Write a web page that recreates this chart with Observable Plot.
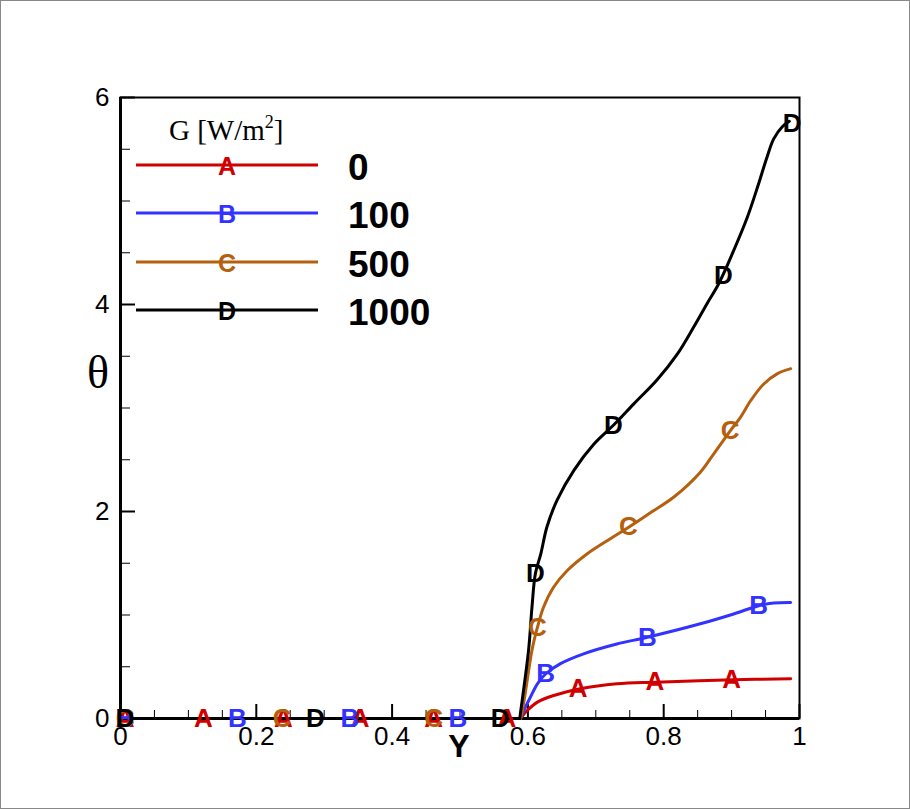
<!DOCTYPE html>
<html>
<head>
<meta charset="utf-8">
<script src="https://cdn.jsdelivr.net/npm/d3@7"></script>
<script src="https://cdn.jsdelivr.net/npm/@observablehq/plot@0.6"></script>
<style>
  html, body { margin: 0; padding: 0; background: #fff; }
  #chart { width: 910px; height: 809px; }
</style>
</head>
<body>
<div id="chart"></div>
<script>
// ---- Series meta ----
const seriesG = ["0", "100", "500", "1000"];
const seriesSymbol = ["A", "B", "C", "D"];
const seriesColor = ["#d00000", "#3333ff", "#b4600e", "#000000"];

// ---- Curves (Y, theta) ----
const curveA_Y = [0, 0.589, 0.599, 0.614, 0.638, 0.677, 0.731, 0.788, 0.903, 0.987];
const curveA_T = [0, 0, 0.077, 0.158, 0.222, 0.287, 0.335, 0.351, 0.374, 0.384];

const curveB_Y = [0, 0.589, 0.594, 0.604, 0.614, 0.626, 0.648, 0.682, 0.731, 0.776, 0.854, 0.903, 0.940, 0.962, 0.987];
const curveB_T = [0, 0, 0.077, 0.21, 0.335, 0.43, 0.53, 0.625, 0.72, 0.785, 0.915, 1.01, 1.09, 1.115, 1.12];

const curveC_Y = [0, 0.589, 0.591, 0.596, 0.606, 0.614, 0.623, 0.638, 0.658, 0.687, 0.722, 0.749, 0.781, 0.815, 0.854, 0.874, 0.898, 0.913, 0.928, 0.947, 0.967, 0.987];
const curveC_T = [0, 0, 0.05, 0.24, 0.66, 0.88, 1.075, 1.27, 1.43, 1.59, 1.74, 1.85, 1.99, 2.14, 2.38, 2.56, 2.78, 2.91, 3.07, 3.23, 3.33, 3.38];

const curveD_Y = [0, 0.588, 0.589, 0.601, 0.606, 0.611, 0.619, 0.628, 0.643, 0.668, 0.697, 0.727, 0.756, 0.790, 0.820, 0.844, 0.864, 0.881, 0.903, 0.923, 0.938, 0.952, 0.962, 0.975, 0.985];
const curveD_T = [0, 0, 0.05, 0.66, 1.075, 1.40, 1.59, 1.85, 2.11, 2.40, 2.65, 2.84, 3.04, 3.27, 3.52, 3.78, 4.01, 4.20, 4.52, 4.84, 5.13, 5.42, 5.60, 5.72, 5.77];

// ---- Symbol positions (Y, theta) ----
const symA_Y = [0.007, 0.122, 0.240, 0.353, 0.461, 0.569, 0.674, 0.787, 0.900];
const symA_T = [0, 0, 0, 0, 0, 0, 0.29, 0.355, 0.372];
const symB_Y = [0.007, 0.172, 0.338, 0.497, 0.626, 0.776, 0.940];
const symB_T = [0, 0, 0, 0, 0.43, 0.785, 1.09];
const symC_Y = [0.007, 0.238, 0.461, 0.614, 0.748, 0.898];
const symC_T = [0, 0, 0, 0.88, 1.85, 2.78];
const symD_Y = [0.007, 0.287, 0.559, 0.611, 0.726, 0.888, 0.989];
const symD_T = [0, 0, 0, 1.40, 2.83, 4.28, 5.745];

// ---- Ticks ----
const xTicks = [0, 0.2, 0.4, 0.6, 0.8, 1];
const xMinor = [0.05, 0.1, 0.15, 0.25, 0.3, 0.35, 0.45, 0.5, 0.55, 0.65, 0.7, 0.75, 0.85, 0.9, 0.95];
const yTicks = [0, 2, 4, 6];
const yMinor = [0.5, 1, 1.5, 2.5, 3, 3.5, 4.5, 5, 5.5];

// ---- Build tables ----
const curvesY = [curveA_Y, curveB_Y, curveC_Y, curveD_Y];
const curvesT = [curveA_T, curveB_T, curveC_T, curveD_T];
const symsY = [symA_Y, symB_Y, symC_Y, symD_Y];
const symsT = [symA_T, symB_T, symC_T, symD_T];

const lines = [];
curvesY.forEach((ys, i) => ys.forEach((y, j) => lines.push({s: i, Y: y, T: curvesT[i][j]})));
const syms = [];
symsY.forEach((ys, i) => ys.forEach((y, j) => syms.push({s: i, Y: y, T: symsT[i][j]})));

const W = 910, H = 809;
const mL = 120, mR = 111, mT = 97, mB = 91;
const innerW = W - mL - mR, innerH = H - mT - mB;
const sans = "'Liberation Sans', Arial, Helvetica, sans-serif";
const serif = "'Liberation Serif', 'Times New Roman', serif";

const marks = [];
// minor / major ticks (inward)
marks.push(Plot.tickX(xMinor, {x: d => d, insetTop: innerH - 8, stroke: "black", strokeWidth: 1}));
marks.push(Plot.tickX(xTicks, {x: d => d, insetTop: innerH - 14, stroke: "black", strokeWidth: 2}));
marks.push(Plot.tickY(yMinor, {y: d => d, insetRight: innerW - 10, stroke: "black", strokeWidth: 1}));
marks.push(Plot.tickY(yTicks, {y: d => d, insetRight: innerW - 15, stroke: "black", strokeWidth: 2}));
// frame and thick axes
marks.push(Plot.frame({stroke: "black", strokeWidth: 2}));
marks.push(Plot.ruleX([0], {x: d => d, stroke: "black", strokeWidth: 3}));
marks.push(Plot.ruleY([0], {y: d => d, stroke: "black", strokeWidth: 3}));
// curves: flat part straight, rising part smooth
for (let i = 0; i < 4; i++) {
  const pts = lines.filter(d => d.s === i);
  marks.push(Plot.line(pts.slice(0, 2), {x: "Y", y: "T", stroke: seriesColor[i], strokeWidth: 3}));
  marks.push(Plot.line(pts.slice(1), {
    x: "Y", y: "T", stroke: seriesColor[i], strokeWidth: 3, curve: "catmull-rom"
  }));
}
// symbols
for (let i = 0; i < 4; i++) {
  marks.push(Plot.text(syms.filter(d => d.s === i), {
    x: "Y", y: "T", text: () => seriesSymbol[i], fill: seriesColor[i],
    fontSize: 26, fontWeight: "bold", fontFamily: sans
  }));
}
// tick labels
marks.push(Plot.text(xTicks, {x: d => d, frameAnchor: "bottom", dy: 8, lineAnchor: "top",
  text: d => String(d), fontSize: 26, fontFamily: sans, fill: "black"}));
marks.push(Plot.text(yTicks, {y: d => d, frameAnchor: "left", dx: -11, textAnchor: "end",
  text: d => String(d), fontSize: 26, fontFamily: sans, fill: "black"}));

const chart = Plot.plot({
  width: W, height: H,
  marginLeft: mL, marginRight: mR, marginTop: mT, marginBottom: mB,
  x: {domain: [0, 1], axis: null},
  y: {domain: [0, 6], axis: null},
  style: {background: "white", fontFamily: sans, overflow: "visible"},
  marks
});

document.getElementById("chart").appendChild(chart);

// ---- Decorations: legend, axis titles, border ----
const svg = d3.select(chart);
svg.append("rect").attr("x", 0.5).attr("y", 0.5).attr("width", W - 1).attr("height", H - 1)
  .attr("fill", "none").attr("stroke", "#888").attr("stroke-width", 1);

// axis titles
svg.append("text").attr("x", 98).attr("y", 372).attr("text-anchor", "middle")
  .attr("dominant-baseline", "central").attr("font-family", serif).attr("font-size", 46)
  .attr("fill", "black").text("θ");
svg.append("text").attr("x", 459).attr("y", 746).attr("text-anchor", "middle")
  .attr("dominant-baseline", "central").attr("font-family", sans).attr("font-weight", "bold")
  .attr("font-size", 32).attr("fill", "black").text("Y");

// legend
const lg = svg.append("g").attr("text-anchor", "start");
const title = lg.append("text").attr("x", 169).attr("y", 140).attr("text-anchor", "start")
  .attr("font-family", serif).attr("font-size", 29).attr("fill", "black");
title.append("tspan").text("G [W/m");
title.append("tspan").attr("font-size", 18).attr("dy", -12).text("2");
title.append("tspan").attr("dy", 12).text("]");

const legendY = [165, 213, 262, 310];
seriesG.forEach((g, i) => {
  const y = legendY[i];
  lg.append("line").attr("x1", 136).attr("x2", 318).attr("y1", y).attr("y2", y)
    .attr("stroke", seriesColor[i]).attr("stroke-width", 3);
  lg.append("text").attr("x", 227).attr("y", y + 1).attr("text-anchor", "middle")
    .attr("dominant-baseline", "central").attr("font-family", sans).attr("font-weight", "bold")
    .attr("font-size", 25).attr("fill", seriesColor[i]).text(seriesSymbol[i]);
  lg.append("text").attr("x", 348).attr("y", y + 2).attr("text-anchor", "start")
    .attr("dominant-baseline", "central")
    .attr("font-family", sans).attr("font-weight", "bold").attr("font-size", 37)
    .attr("fill", "black").text(g);
});
</script>
</body>
</html>
